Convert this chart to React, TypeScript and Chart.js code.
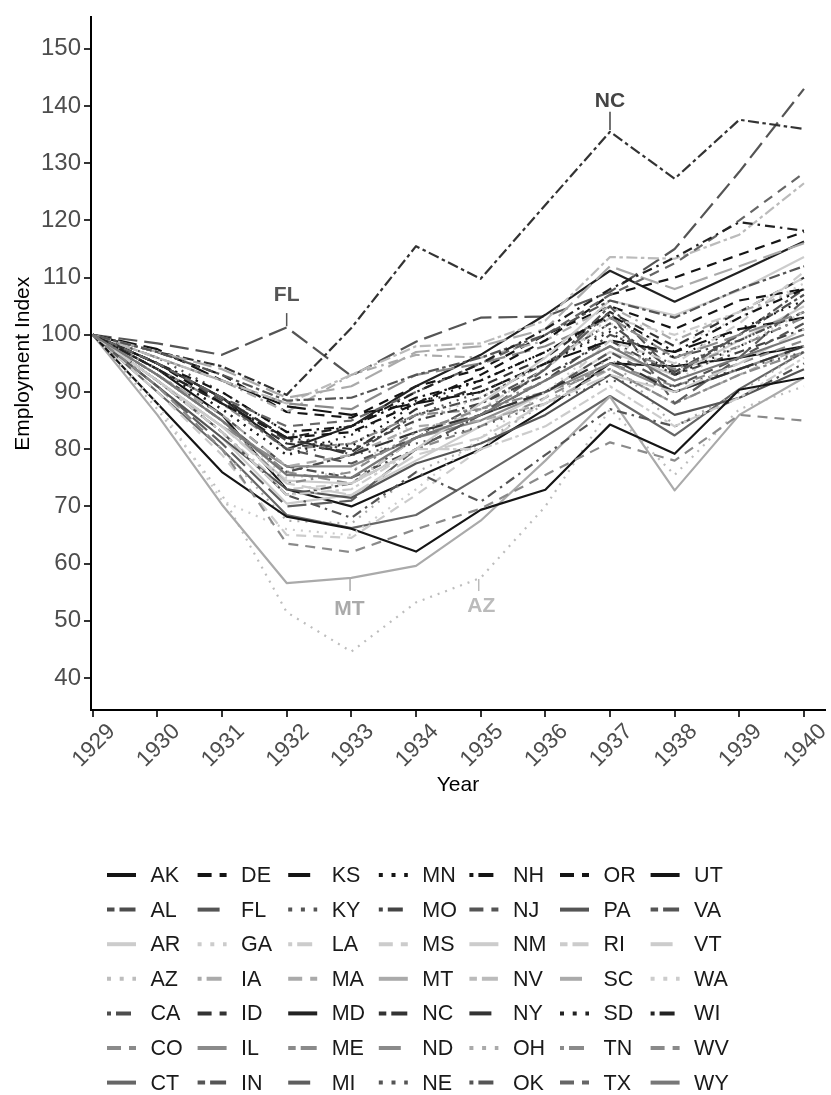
import React, { useEffect, useRef } from 'react';
import { Chart, registerables } from 'chart.js';

Chart.register(...registerables);

const FONT = "'Liberation Sans', Arial, Helvetica, sans-serif";

const years = [1929, 1930, 1931, 1932, 1933, 1934, 1935, 1936, 1937, 1938, 1939, 1940];
const yTicks = [40, 50, 60, 70, 80, 90, 100, 110, 120, 130, 140, 150];

const AK = [100, 94, 86, 73, 70, 75, 80, 87, 95, 94.5, 96, 98];
const AL = [100, 93, 85, 76, 79, 86, 89, 95, 102, 93.5, 100, 107];
const AR = [100, 91, 82, 70.5, 72, 78, 84, 90, 97, 93, 99, 105];
const AZ = [100, 87, 72, 51.5, 44.6, 53.2, 57.5, 70, 87, 75.5, 87, 91];
const CA = [100, 93, 86, 77, 75, 80, 86, 92, 100, 96, 99, 104];
const CO = [100, 93, 85, 76, 74, 80, 84, 89, 95, 91, 95, 99];
const CT = [100, 90, 80, 68.5, 66.2, 68.5, 75.3, 82.2, 89.3, 82.4, 90.5, 97];
const DE = [100, 97, 93, 86.5, 85.5, 91, 94, 100, 105, 101, 106, 108];
const FL = [100, 98.5, 96.5, 101.3, 92.8, 98.8, 103, 103.2, 107.5, 115, 128.5, 143];
const GA = [100, 93, 85, 75, 76, 85, 89, 95, 102, 98, 103, 109];
const IA = [100, 96, 92, 86.5, 93, 96.5, 96, 99, 105, 99, 104, 108];
const ID = [100, 94, 88, 81, 79.5, 87, 91, 96, 104, 98, 104, 110];
const IL = [100, 92, 84, 77, 77, 82, 85, 90, 95, 90, 94, 98];
const IN = [100, 92, 83, 72, 74, 82, 88, 94, 105, 93, 100, 108];
const KS = [100, 97.5, 92, 87.5, 86, 88, 90, 95, 99, 97, 101, 103];
const KY = [100, 94, 87, 79, 81, 86, 90, 95, 101, 94.5, 99, 104];
const LA = [100, 92, 83, 73, 74, 82, 87, 94, 103, 100, 104, 110];
const MA = [100, 93, 86, 77, 79, 84, 85, 88, 94, 88, 93, 98];
const MD = [100, 95, 89, 80, 84, 91, 96.5, 103.5, 111.2, 105.8, 111, 116.3];
const ME = [100, 94, 88, 80, 81, 86, 87, 90, 94, 88, 93, 97];
const MI = [100, 91, 81, 70, 71, 80, 86, 94, 104, 88, 96, 106];
const MN = [100, 95, 89, 82, 80.5, 88, 92, 97, 103, 96, 101, 106];
const MO = [100, 95, 89, 81.5, 80, 85, 88, 93, 99, 93, 97, 101];
const MS = [100, 90, 79, 65, 64.5, 72, 80, 89, 99, 95, 102, 111];
const MT = [100, 86, 70.3, 56.6, 57.5, 59.6, 67.5, 78, 89.2, 72.8, 86, 92.5];
const NC = [100, 97, 94.5, 89.5, 101.2, 115.5, 109.8, 122.7, 135.5, 127.3, 137.6, 136];
const ND = [100, 96, 92, 88, 87, 93, 95, 98, 103, 96, 100, 104];
const NE = [100, 96, 90, 83, 79, 81, 84, 88, 92, 91, 94, 97];
const NH = [100, 95, 90, 83, 84, 89, 92, 97, 103.5, 97, 103, 108];
const NJ = [100, 95, 88.5, 80, 77.5, 82, 86, 90, 97, 91, 96, 102];
const NM = [100, 92, 84, 74.5, 74, 80, 88, 96, 106, 103.4, 107.8, 113.6];
const NV = [100, 96, 92, 88, 93, 98, 98.5, 102.5, 113.6, 113.3, 117.5, 126.5];
const NY = [100, 95, 89, 82, 79, 83, 86, 90, 96, 90, 94, 98];
const OH = [100, 91, 80, 67.5, 67, 76, 81, 88, 96, 84, 90, 97];
const OK = [100, 92, 83, 72, 68, 76, 70.8, 79, 87, 84, 89, 95];
const OR = [100, 95, 88, 82, 83, 88, 93, 99, 107, 110, 114, 118];
const PA = [100, 91, 82, 73, 71.5, 77.5, 81, 86, 93, 86, 89, 94];
const RI = [100, 92, 83, 72, 73, 80, 80, 84, 91, 84, 89, 96];
const SC = [100, 97, 94, 89, 91, 97, 98, 101, 112, 108, 112, 116];
const SD = [100, 94, 87, 79, 82.5, 88.5, 90, 95, 100.5, 93, 98, 103];
const TN = [100, 93, 85, 74, 76, 83, 87, 92, 98, 94, 98, 103];
const TX = [100, 95, 89, 84, 85, 90, 95, 100, 107, 112.5, 120, 128.3];
const UT = [100, 88, 76, 68.2, 66.1, 62.1, 69.4, 72.9, 84.3, 79.2, 90.4, 92.5];
const VA = [100, 97, 93, 88.5, 89, 93, 96, 100, 106, 103, 108, 112];
const VT = [100, 92, 84, 74, 72, 79, 82, 88, 93, 90, 95, 101];
const WA = [100, 88, 71, 66, 65, 73, 82, 90, 99, 92, 98, 104];
const WI = [100, 94, 88, 82, 84, 90, 95, 101, 108, 113.5, 119.7, 118.2];
const WV = [100, 91, 80, 63.5, 62, 66, 69.6, 75.5, 81.2, 78, 86, 85];
const WY = [100, 93, 85, 75.5, 75, 82, 86, 92, 98, 92, 96, 100];

const stateNames = [
  'AK', 'AL', 'AR', 'AZ', 'CA', 'CO', 'CT',
  'DE', 'FL', 'GA', 'IA', 'ID', 'IL', 'IN',
  'KS', 'KY', 'LA', 'MA', 'MD', 'ME', 'MI',
  'MN', 'MO', 'MS', 'MT', 'NC', 'ND', 'NE',
  'NH', 'NJ', 'NM', 'NV', 'NY', 'OH', 'OK',
  'OR', 'PA', 'RI', 'SC', 'SD', 'TN', 'TX',
  'UT', 'VA', 'VT', 'WA', 'WI', 'WV', 'WY',
];
const stateSeries = [
  AK, AL, AR, AZ, CA, CO, CT,
  DE, FL, GA, IA, ID, IL, IN,
  KS, KY, LA, MA, MD, ME, MI,
  MN, MO, MS, MT, NC, ND, NE,
  NH, NJ, NM, NV, NY, OH, OK,
  OR, PA, RI, SC, SD, TN, TX,
  UT, VA, VT, WA, WI, WV, WY,
];
const stateColors = [
  '#151515', '#4d4d4d', '#cccccc', '#bdbdbd', '#4d4d4d', '#8a8a8a', '#666666',
  '#151515', '#555555', '#cccccc', '#aaaaaa', '#333333', '#8a8a8a', '#555555',
  '#151515', '#555555', '#cccccc', '#aaaaaa', '#222222', '#8a8a8a', '#5e5e5e',
  '#151515', '#444444', '#cccccc', '#aaaaaa', '#333333', '#8a8a8a', '#555555',
  '#151515', '#555555', '#cccccc', '#bbbbbb', '#333333', '#aaaaaa', '#555555',
  '#151515', '#555555', '#cccccc', '#aaaaaa', '#222222', '#8a8a8a', '#666666',
  '#151515', '#555555', '#cccccc', '#cccccc', '#222222', '#8a8a8a', '#777777',
];
const stateLinetypes = [
  'solid', 'twodash', 'solid', 'dotted', 'dotdash', 'dashed', 'solid',
  'dashed', 'longdash', 'dotted', 'dotdash', 'dashed', 'solid', 'twodash',
  'longdash', 'dotted', 'dotdash', 'dashed', 'solid', 'twodash', 'longdash',
  'dotted', 'dotdash', 'dashed', 'solid', 'twodash', 'longdash', 'dotted',
  'dotdash', 'dashed', 'solid', 'twodash', 'longdash', 'dotted', 'dotdash',
  'dashed', 'solid', 'twodash', 'longdash', 'dotted', 'dotdash', 'dashed',
  'solid', 'twodash', 'longdash', 'dotted', 'dotdash', 'dashed', 'solid',
];

const plotDash: Record<string, number[]> = {
  solid: [],
  dashed: [10, 7],
  dotted: [2, 6],
  dotdash: [2.5, 5, 10, 5],
  longdash: [19, 7],
  twodash: [3.5, 3.5, 11, 3.5],
};
const legendDash: Record<string, number[]> = {
  solid: [],
  dashed: [14, 8],
  dotted: [4, 8.7],
  dotdash: [4, 5, 15, 5],
  longdash: [22, 9],
  twodash: [7.5, 5, 16, 5],
};

// labelled series: label anchor (year, value) and leader segment (value from -> to)
const annotations = [
  { label: 'FL', year: 1932, labelValue: 106.9, segYear: 1932, segFrom: 103.8, segTo: 101.5, color: '#555555' },
  { label: 'NC', year: 1937, labelValue: 140.9, segYear: 1937, segFrom: 139.0, segTo: 135.8, color: '#444444' },
  { label: 'MT', year: 1932.97, labelValue: 52.1, segYear: 1932.98, segFrom: 55.2, segTo: 57.3, color: '#aaaaaa' },
  { label: 'AZ', year: 1935.01, labelValue: 52.6, segYear: 1934.97, segFrom: 55.2, segTo: 57.3, color: '#bbbbbb' },
];

const overlayPlugin = {
  id: 'overlay',
  afterDatasetsDraw(chart: any) {
    const { ctx, scales } = chart;
    const xs = scales.x;
    const ys = scales.y;
    ctx.save();
    for (const a of annotations) {
      ctx.strokeStyle = a.color;
      ctx.lineWidth = 1.5;
      ctx.setLineDash([]);
      ctx.beginPath();
      const sx = xs.getPixelForValue(a.segYear);
      ctx.moveTo(sx, ys.getPixelForValue(a.segFrom));
      ctx.lineTo(sx, ys.getPixelForValue(a.segTo));
      ctx.stroke();
      ctx.fillStyle = a.color;
      ctx.font = `bold 21px ${FONT}`;
      ctx.textAlign = 'center';
      ctx.textBaseline = 'middle';
      ctx.fillText(a.label, xs.getPixelForValue(a.year), ys.getPixelForValue(a.labelValue));
    }
    ctx.restore();
  },
  afterDraw(chart: any) {
    const { ctx } = chart;
    ctx.save();
    const perCol = 7;
    for (let i = 0; i < stateNames.length; i++) {
      const col = Math.floor(i / perCol);
      const row = i % perCol;
      const x0 = 107 + col * 90.6;
      const y = 875 + row * 34.6;
      ctx.strokeStyle = stateColors[i];
      ctx.lineWidth = 4;
      ctx.lineCap = 'butt';
      ctx.setLineDash(legendDash[stateLinetypes[i]]);
      ctx.beginPath();
      ctx.moveTo(x0, y);
      ctx.lineTo(x0 + 29, y);
      ctx.stroke();
      ctx.setLineDash([]);
      ctx.fillStyle = '#1a1a1a';
      ctx.font = `21.5px ${FONT}`;
      ctx.textAlign = 'left';
      ctx.textBaseline = 'middle';
      ctx.fillText(stateNames[i], x0 + 43.5, y + 1);
    }
    ctx.restore();
  },
};

export default function App() {
  const canvasRef = useRef<HTMLCanvasElement | null>(null);

  useEffect(() => {
    const canvas = canvasRef.current;
    if (!canvas) return;
    const datasets = stateSeries.map((series, i) => ({
      label: stateNames[i],
      data: years.map((yr, j) => ({ x: yr, y: series[j] })),
      borderColor: stateColors[i],
      backgroundColor: stateColors[i],
      borderWidth: 2.2,
      borderDash: plotDash[stateLinetypes[i]],
      borderCapStyle: 'butt',
      borderJoinStyle: 'round',
      pointRadius: 0,
      tension: 0,
      fill: false,
      order: stateSeries.length - i,
    }));

    const chart = new Chart(canvas, {
      type: 'line',
      data: { datasets } as any,
      plugins: [overlayPlugin],
      options: {
        animation: false,
        responsive: false,
        maintainAspectRatio: false,
        devicePixelRatio: 1,
        layout: { padding: { top: 12, right: 6, bottom: 295, left: 0 } },
        plugins: {
          legend: { display: false },
          tooltip: { enabled: false },
        },
        scales: {
          x: {
            type: 'linear',
            min: 1928.974,
            max: 1940.325,
            afterBuildTicks: (scale: any) => {
              scale.ticks = years.map((v) => ({ value: v }));
            },
            afterFit: (scale: any) => {
              scale.height = 90;
            },
            ticks: {
              autoSkip: false,
              minRotation: 45,
              maxRotation: 45,
              labelOffset: 19,
              padding: 1.5,
              color: '#4d4d4d',
              font: { family: FONT, size: 22.5 },
              callback: (v: any) => String(v),
            },
            grid: {
              drawOnChartArea: false,
              drawTicks: true,
              tickLength: 7,
              color: '#333333',
              lineWidth: 2,
            },
            border: { display: true, color: '#000000', width: 2 },
            title: {
              display: true,
              text: 'Year',
              color: '#000000',
              font: { family: FONT, size: 21 },
              padding: { top: 0, bottom: 2 },
            },
          },
          y: {
            type: 'linear',
            min: 34.4,
            max: 155.5,
            afterBuildTicks: (scale: any) => {
              scale.ticks = yTicks.map((v) => ({ value: v }));
            },
            afterFit: (scale: any) => {
              scale.width = 91;
            },
            ticks: {
              padding: 3,
              color: '#4d4d4d',
              font: { family: FONT, size: 24 },
              callback: (v: any) => String(v),
            },
            grid: {
              drawOnChartArea: false,
              drawTicks: true,
              tickLength: 7,
              color: '#333333',
              lineWidth: 2,
            },
            border: { display: true, color: '#000000', width: 2 },
            title: {
              display: true,
              text: 'Employment Index',
              color: '#000000',
              font: { family: FONT, size: 21 },
              padding: { top: 11, bottom: 0 },
            },
          },
        },
      } as any,
    });
    return () => chart.destroy();
  }, []);

  return (
    <div style={{ position: 'absolute', left: 0, top: 0, width: 831, height: 1095, background: '#ffffff' }}>
      <canvas ref={canvasRef} width={831} height={1095} style={{ display: 'block' }} />
    </div>
  );
}
